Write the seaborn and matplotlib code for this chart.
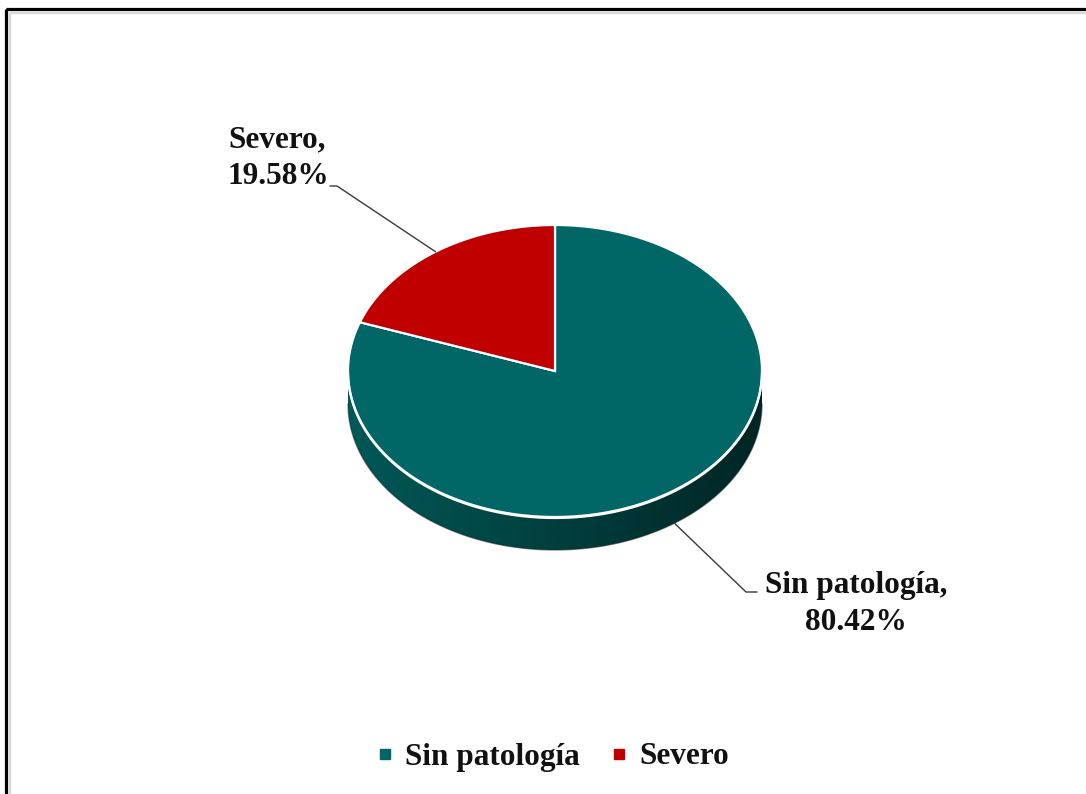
import numpy as np
import matplotlib
matplotlib.use("Agg")
import matplotlib.pyplot as plt
from matplotlib.patches import Polygon, Rectangle
from matplotlib.lines import Line2D
import matplotlib.colors as mcolors
import seaborn as sns

# Data
categories = ["Sin patología", "Severo"]
percentages = [80.42, 19.58]
colors = ["#006766", "#C00000"]

sns.set_theme(style="white")
plt.rcParams["font.family"] = ["Liberation Serif", "DejaVu Serif"]
plt.rcParams["font.weight"] = "bold"

W, H = 1086, 794
fig = plt.figure(figsize=(W / 100, H / 100), dpi=100)
ax = fig.add_axes([0, 0, 1, 1])
ax.set_xlim(0, W)
ax.set_ylim(H, 0)
ax.axis("off")

# Pie geometry (pixel space, y downwards)
cx, cy = 555, 371
ra, rb = 207, 146
depth = 33


def ell(theta_deg, dy=0.0):
    t = np.radians(theta_deg)
    return cx + ra * np.cos(t), cy - rb * np.sin(t) + dy


# Slices go clockwise from 12 o'clock
total = sum(percentages)
spans = []
start = 90.0
for v in percentages:
    sweep = 360.0 * v / total
    spans.append((start - sweep, start))  # counter-clockwise range [lo, hi]
    start -= sweep

# Side wall: visible for angles in the lower half of the ellipse,
# filled with a left-to-right shading gradient clipped to the wall shape
for (lo, hi), col in zip(spans, colors):
    base = np.array(mcolors.to_rgb(col))
    for k in range(-1, 2):
        a0, a1 = max(lo + 360 * k, 180), min(hi + 360 * k, 360)
        if a1 <= a0:
            continue
        ts = np.linspace(a0, a1, 400)
        tx, ty = ell(ts)
        bx, by = ell(ts[::-1], depth)
        wall = Polygon(np.column_stack([np.r_[tx, bx], np.r_[ty, by]]),
                       closed=True, facecolor="none", edgecolor="none")
        ax.add_patch(wall)
        xs = np.linspace(0, 1, 256)
        shade = 0.86 - 0.50 * xs
        grad = np.clip(base[None, None, :] * shade[None, :, None], 0, 1)
        img = ax.imshow(grad, extent=(cx - ra, cx + ra, cy + rb + depth + 2, cy - 2),
                        aspect="auto", interpolation="bilinear", zorder=2)
        img.set_clip_path(wall)

# Soft dark rim along the bottom of the wall
tb = np.linspace(180, 360, 300)
bx, by = ell(tb, depth)
ax.plot(bx, by, color="#0b2222", lw=1.0, alpha=0.5, zorder=2.5)

# Top face wedges
mids = []
for (lo, hi), col in zip(spans, colors):
    ts = np.linspace(lo, hi, 300)
    xs, ys = ell(ts)
    pts = np.column_stack([np.r_[cx, xs], np.r_[cy, ys]])
    ax.add_patch(Polygon(pts, closed=True, facecolor=col, edgecolor="white",
                         lw=1.6, joinstyle="miter", zorder=3))
    mids.append((lo + hi) / 2)

# White highlight on the front edge of the top face
hx, hy = ell(np.linspace(180, 360, 300), 1.0)
ax.plot(hx, hy, color="white", lw=1.6, zorder=3.5)

# Data labels with leader lines
lab_kw = dict(fontsize=22.5, fontweight="bold", color="#111111", zorder=5,
              linespacing=1.32)

# Severo
mx, my = ell(mids[1] % 360)
ax.plot([mx, 337, 330], [my, 186, 186], color="#3a3a3a", lw=1.0, zorder=4)
ax.text(228, 158, f"{categories[1]},\n{percentages[1]:.2f}%", ha="left",
        va="center", multialignment="left", **lab_kw)

# Sin patología (anchored on the lower rim of the wall)
mx, my = ell(mids[0] % 360, depth)
ax.plot([mx, 746, 757], [my, 592, 592], color="#3a3a3a", lw=1.0, zorder=4)
ax.text(856, 604, f"{categories[0]},\n{percentages[0]:.2f}%", ha="center",
        va="center", multialignment="center", **lab_kw)

# Legend
handles = [Line2D([0], [0], marker="s", linestyle="none", markersize=7.5,
                  markerfacecolor=c, markeredgecolor=c) for c in colors]
fig.legend(handles, categories, loc="center", bbox_to_anchor=(549 / W, 1 - 757 / H),
           ncol=2, frameon=False, prop=dict(size=22.5, weight="bold"),
           handletextpad=0.15, columnspacing=0.75, handlelength=1.0,
           labelcolor="#111111")

# Frame around the chart
ax.add_patch(Rectangle((10, 13), W + 20, H + 20, fill=False, edgecolor="#d8d8d8",
                       lw=1.6, zorder=6, clip_on=False))
ax.add_patch(Rectangle((6, 9), W + 20, H + 20, fill=False, edgecolor="black",
                       lw=2.3, zorder=7, clip_on=False))

fig.savefig("out.png", dpi=100, facecolor="white")
